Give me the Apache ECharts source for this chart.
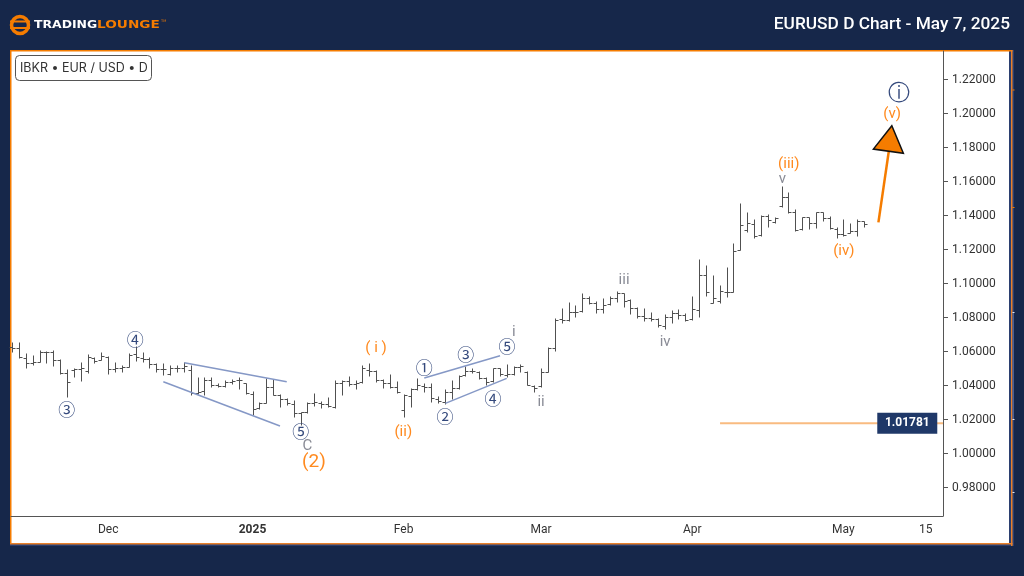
<!DOCTYPE html>
<html>
<head>
<meta charset="utf-8">
<title>EURUSD D Chart</title>
<script src="https://cdn.jsdelivr.net/npm/echarts@6/dist/echarts.min.js"></script>
<style>
    html, body { margin: 0; padding: 0; background: #16274a; }
    #main { width: 1024px; height: 576px; }
</style>
</head>
<body>
<div id="main"></div>
<script>
// 日线 OHLC，按交易日顺序
const opens = [1.0629,1.0623,1.0560,1.0531,1.0540,1.0595,1.0599,1.0550,1.0472,1.0491,1.0495,1.0485,1.0560,1.0550,1.0570,1.0497,1.0505,1.0511,1.0584,1.0560,1.0554,1.0527,1.0497,1.0468,1.0501,
    1.0505,1.0491,1.0358,1.0370,1.0433,1.0403,1.0399,1.0423,1.0433,1.0413,1.0350,1.0266,1.0299,1.0389,1.0344,1.0321,1.0291,1.0241,1.0247,1.0299,1.0295,1.0291,1.0276,1.0417,1.0427,
    1.0409,1.0419,1.0491,1.0487,1.0433,1.0417,1.0389,1.0256,1.0340,1.0378,1.0397,1.0389,1.0319,1.0305,1.0364,1.0384,1.0462,1.0487,1.0482,1.0442,1.0429,1.0501,1.0462,1.0468,1.0511,
    1.0482,1.0397,1.0397,1.0482,1.0623,1.0790,1.0786,1.0835,1.0839,1.0917,1.0884,1.0848,1.0878,1.0917,1.0943,1.0903,1.0854,1.0809,1.0796,1.0790,1.0752,1.0801,1.0825,1.0815,1.0790,
    1.0845,1.1050,1.0884,1.0899,1.0948,1.0948,1.1198,1.1315,1.1350,1.1286,1.1399,1.1364,1.1456,1.1511,1.1423,1.1319,1.1390,1.1358,1.1419,1.1384,1.1319,1.1292,1.1300,1.1309,1.1370];
const highs = [1.0658,1.0654,1.0589,1.0580,1.0609,1.0603,1.0609,1.0554,1.0495,1.0501,1.0540,1.0584,1.0570,1.0595,1.0574,1.0537,1.0521,1.0589,1.0634,1.0595,1.0566,1.0531,1.0531,1.0521,1.0521,
    1.0537,1.0521,1.0452,1.0448,1.0448,1.0413,1.0433,1.0438,1.0452,1.0417,1.0370,1.0305,1.0442,1.0436,1.0350,1.0325,1.0315,1.0247,1.0305,1.0354,1.0309,1.0331,1.0433,1.0433,1.0456,
    1.0433,1.0521,1.0535,1.0491,1.0438,1.0468,1.0429,1.0348,1.0384,1.0442,1.0413,1.0413,1.0339,1.0378,1.0433,1.0462,1.0515,1.0505,1.0485,1.0452,1.0505,1.0505,1.0525,1.0517,1.0525,
    1.0487,1.0403,1.0501,1.0625,1.0795,1.0854,1.0890,1.0874,1.0943,1.0929,1.0898,1.0913,1.0927,1.0956,1.0943,1.0909,1.0860,1.0854,1.0831,1.0796,1.0819,1.0845,1.0850,1.0829,1.0927,
    1.1143,1.1109,1.1050,1.0992,1.1099,1.1237,1.1472,1.1419,1.1380,1.1403,1.1407,1.1394,1.1574,1.1541,1.1437,1.1394,1.1394,1.1423,1.1423,1.1398,1.1331,1.1378,1.1358,1.1378,1.1370];
const lows = [1.0599,1.0560,1.0501,1.0521,1.0536,1.0531,1.0515,1.0468,1.0335,1.0452,1.0429,1.0476,1.0531,1.0550,1.0466,1.0482,1.0478,1.0511,1.0546,1.0540,1.0501,1.0482,1.0462,1.0462,1.0482,
    1.0482,1.0344,1.0350,1.0344,1.0389,1.0389,1.0393,1.0409,1.0378,1.0350,1.0227,1.0262,1.0295,1.0344,1.0276,1.0286,1.0217,1.0168,1.0241,1.0280,1.0266,1.0272,1.0270,1.0344,1.0397,
    1.0378,1.0417,1.0456,1.0419,1.0387,1.0387,1.0354,1.0217,1.0276,1.0374,1.0360,1.0305,1.0295,1.0291,1.0319,1.0378,1.0456,1.0472,1.0436,1.0403,1.0423,1.0456,1.0452,1.0462,1.0478,
    1.0403,1.0364,1.0393,1.0478,1.0605,1.0770,1.0782,1.0805,1.0835,1.0880,1.0825,1.0829,1.0874,1.0894,1.0864,1.0819,1.0796,1.0782,1.0782,1.0743,1.0733,1.0766,1.0790,1.0782,1.0786,
    1.0805,1.0929,1.0884,1.0888,1.0919,1.0948,1.1198,1.1301,1.1266,1.1282,1.1335,1.1358,1.1452,1.1417,1.1311,1.1315,1.1319,1.1325,1.1370,1.1319,1.1266,1.1280,1.1296,1.1282,1.1331];
const closes = [1.0619,1.0566,1.0531,1.0540,1.0599,1.0599,1.0550,1.0472,1.0423,1.0495,1.0501,1.0570,1.0546,1.0574,1.0497,1.0501,1.0507,1.0580,1.0566,1.0554,1.0527,1.0497,1.0495,1.0501,1.0505,
    1.0515,1.0358,1.0364,1.0433,1.0403,1.0399,1.0423,1.0427,1.0433,1.0358,1.0262,1.0295,1.0389,1.0344,1.0321,1.0295,1.0241,1.0247,1.0295,1.0305,1.0291,1.0280,1.0417,1.0427,1.0409,
    1.0413,1.0501,1.0487,1.0433,1.0417,1.0389,1.0364,1.0344,1.0378,1.0403,1.0389,1.0325,1.0309,1.0364,1.0384,1.0458,1.0487,1.0484,1.0442,1.0423,1.0501,1.0468,1.0468,1.0511,1.0515,
    1.0403,1.0384,1.0482,1.0623,1.0785,1.0786,1.0835,1.0835,1.0917,1.0884,1.0848,1.0874,1.0917,1.0943,1.0899,1.0854,1.0809,1.0796,1.0790,1.0756,1.0801,1.0825,1.0815,1.0786,1.0848,
    1.1050,1.0948,1.0913,1.0958,1.0948,1.1193,1.1345,1.1354,1.1280,1.1399,1.1374,1.1388,1.1511,1.1423,1.1315,1.1390,1.1358,1.1419,1.1384,1.1325,1.1292,1.1286,1.1309,1.1370,1.1350];

// 坐标轴刻度
const yTicks = [0.98, 1.00, 1.02, 1.04, 1.06, 1.08, 1.10, 1.12, 1.14, 1.16, 1.18, 1.20, 1.22];
const xTickSlots = [14, 35, 57, 77, 99, 121, 133];
const xTickNames = ['Dec', '2025', 'Feb', 'Mar', 'Apr', 'May', '15'];

// 波浪标注
const waveNames = ['③', '④', '⑤', '①', '②', '③', '④', '⑤', 'ⓘ',
    'C', 'i', 'ii', 'iii', 'iv', 'v',
    '( i )', '(ii)', '(iii)', '(iv)', '(v)', '(2)'];
const waveSlots = [7.96, 17.94, 42.02, 60.01, 63.02, 66.04, 70.01, 72.05, 129.1,
    42.98, 73.02, 77.0, 89.08, 95.05, 112.12,
    52.98, 56.95, 113.05, 121.06, 128.09, 43.95];
const wavePrices = [1.0266, 1.0675, 1.0138, 1.0513, 1.0221, 1.0589, 1.0328, 1.0636, 1.2122,
    1.0050, 1.0722, 1.0309, 1.1026, 1.0660, 1.1622,
    1.0628, 1.0132, 1.1707, 1.1195, 1.2001, 0.9956];
const waveKinds = ['navy', 'navy', 'navy', 'navy', 'navy', 'navy', 'navy', 'navy', 'navyBig',
    'gray', 'gray', 'gray', 'gray', 'gray', 'gray',
    'orange', 'orange', 'orange', 'orange', 'orange', 'big'];

// 趋势线 [slot1, price1, slot2, price2]
const wedgeLines = [
    [25.08, 1.0534, 39.98, 1.0422],
    [22.02, 1.0422, 39.0, 1.0162],
    [60.0, 1.0444, 71.03, 1.0575],
    [63.07, 1.0295, 72.0, 1.0442]
];
const arrowShaft = [126.1, 1.1360, 127.6, 1.1775];
const arrowHeadSlots = [128.05, 125.37, 129.73];
const arrowHeadPrices = [1.1928, 1.1791, 1.1766];

const levelPrice = 1.01781;
const levelStartSlot = 103.05;
const xMin = -0.15;
const xMax = 135.5;

const kindStyle = {
    navy: {color: '#34497c', fontSize: 17, fontFamily: 'Noto Sans CJK SC'},
    navyBig: {color: '#34497c', fontSize: 22, fontFamily: 'DejaVu Sans'},
    gray: {color: '#8a8c96', fontSize: 15, fontFamily: 'Roboto'},
    orange: {color: '#ff8a1f', fontSize: 15, fontFamily: 'Roboto'},
    big: {color: '#ff8a1f', fontSize: 19, fontFamily: 'Roboto'}
};

/**
 * 美国线：左开右收
 */
const renderOhlc = function (params, api) {
    const x = Math.round(api.coord([api.value(0), 0])[0]) + 0.5;
    const yOf = function (i) {
        return Math.round(api.coord([0, api.value(i)])[1]) + 0.5;
    };
    const style = {stroke: '#505050', lineWidth: 1, fill: null};
    return {
        type: 'group',
        children: [
            {type: 'line', shape: {x1: x, y1: yOf(3), x2: x, y2: yOf(4)}, style: style},
            {type: 'line', shape: {x1: x - 3, y1: yOf(1), x2: x, y2: yOf(1)}, style: style},
            {type: 'line', shape: {x1: x, y1: yOf(2), x2: x + 3, y2: yOf(2)}, style: style}
        ]
    };
};

const ohlcData = opens.map(function (o, i) {
    return [i, o, closes[i], lows[i], highs[i]];
});

const lineSeries = function (points, color, width) {
    return {
        type: 'line',
        data: points,
        symbol: 'none',
        silent: true,
        lineStyle: {color: color, width: width}
    };
};

const wedgeSeries = wedgeLines.map(function (l) {
    return lineSeries([[l[0], l[1]], [l[2], l[3]]], '#8598c6', 1.5);
});

const edgeRect = function (x, y, width, height, fill, z) {
    return {type: 'rect', z: z, silent: true, shape: {x: x, y: y, width: width, height: height}, style: {fill: fill}};
};

const chart = echarts.init(document.getElementById('main'));
chart.setOption({
    animation: false,
    backgroundColor: '#16274a',
    grid: {left: 11, right: 81, top: 51, bottom: 60},
    xAxis: {
        type: 'value',
        min: xMin,
        max: xMax,
        splitLine: {show: false},
        axisLine: {show: true, onZero: false, lineStyle: {color: '#555', width: 1}},
        axisTick: {show: false},
        axisLabel: {
            customValues: xTickSlots,
            margin: 8,
            color: '#333',
            fontFamily: 'Roboto',
            fontSize: 12,
            formatter: function (v) {
                const name = xTickNames[xTickSlots.indexOf(v)];
                return name === '2025' ? '{b|' + name + '}' : name;
            },
            rich: {b: {fontWeight: 'bold', fontFamily: 'Roboto', fontSize: 12, color: '#333'}}
        }
    },
    yAxis: {
        type: 'value',
        position: 'right',
        min: 0.96324,
        max: 1.2368,
        splitLine: {show: false},
        axisLine: {show: true, onZero: false, lineStyle: {color: '#555', width: 1}},
        axisTick: {show: true, customValues: yTicks, length: 5, lineStyle: {color: '#555'}},
        axisLabel: {
            customValues: yTicks,
            margin: 9,
            padding: [4, 0, 0, 0],
            color: '#333',
            fontFamily: 'Roboto',
            fontSize: 12,
            formatter: function (v) {
                return v.toFixed(5);
            }
        }
    },
    graphic: [
        // 白色图表区和边框
        edgeRect(1009, 50, 5, 496, '#2b3f70', -11),
        edgeRect(11, 51, 998, 492.5, '#fff', -10),
        edgeRect(10, 544, 1001, 2, '#2b3f70', -10),
        edgeRect(10, 50, 1002.5, 1.5, '#f57c00', -9),
        edgeRect(10, 50, 1.5, 494, '#f57c00', -9),
        edgeRect(10, 543, 1002.5, 1.5, '#e8802a', -9),
        edgeRect(1011, 50, 1.5, 496, '#e8802a', -9),
        // 右侧价格条
        edgeRect(1012.5, 312, 1.5, 107, '#4a5f94', -8),
        edgeRect(1012.5, 89.5, 2, 1, '#f57c00', -8),
        edgeRect(1012.5, 207, 2, 1, '#f57c00', -8),
        edgeRect(1012.5, 312, 2, 1, '#e6e9f2', -8),
        edgeRect(1012.5, 419, 2, 1, '#e6e9f2', -8),
        edgeRect(1012.5, 492, 2, 1, '#e6e9f2', -8),
        // Logo
        {type: 'circle', z: 10, shape: {cx: 20, cy: 25, r: 8.5}, style: {fill: 'none', stroke: '#f57c00', lineWidth: 3.5}},
        edgeRect(10, 20.5, 20, 2, '#f57c00', 10),
        edgeRect(10, 27, 20, 2, '#f57c00', 10),
        {type: 'text', z: 10, x: 34, y: 25, scaleX: 1.13, style: {text: 'TRADING', fill: '#fff', font: 'bold 11px "DejaVu Sans"', verticalAlign: 'middle'}},
        {type: 'text', z: 10, x: 97, y: 25, scaleX: 1.24, style: {text: 'LOUNGE', fill: '#f57c00', font: 'bold 11px "DejaVu Sans"', verticalAlign: 'middle'}},
        {type: 'text', z: 10, x: 161, y: 21, style: {text: 'TM', fill: '#f57c00', font: '3.5px "DejaVu Sans"', verticalAlign: 'middle'}},
        // 标题
        {type: 'text', z: 10, right: 14, top: 16, style: {text: 'EURUSD D Chart - May 7, 2025', fill: '#fff', font: '500 17.3px Roboto'}},
        // 品种标签
        {type: 'rect', z: 10, shape: {x: 15.5, y: 55.5, width: 136, height: 25, r: 4}, style: {fill: '#fff', stroke: '#555', lineWidth: 1}},
        {type: 'text', z: 11, left: 20, top: 62, style: {text: 'IBKR • EUR / USD • D', fill: '#333', font: '12.5px Inter'}}
    ],
    series: [
        {
            type: 'custom',
            renderItem: renderOhlc,
            encode: {x: 0, y: [1, 2, 3, 4]},
            data: ohlcData,
            silent: true
        }
    ].concat(wedgeSeries, [
        lineSeries([[levelStartSlot, levelPrice], [xMax, levelPrice]], '#f9bb80', 2),
        lineSeries([[arrowShaft[0], arrowShaft[1]], [arrowShaft[2], arrowShaft[3]]], '#f57c00', 2.5),
        {
            // 箭头
            type: 'custom',
            silent: true,
            z: 5,
            renderItem: function (params, api) {
                const points = arrowHeadSlots.map(function (s, i) {
                    return api.coord([s, arrowHeadPrices[i]]);
                });
                return {
                    type: 'polygon',
                    shape: {points: points},
                    style: {fill: '#f57c00', stroke: '#111', lineWidth: 1.5}
                };
            },
            data: [[arrowHeadSlots[0], arrowHeadPrices[0]]]
        },
        {
            type: 'scatter',
            silent: true,
            symbolSize: 1,
            itemStyle: {color: 'transparent', opacity: 1},
            z: 6,
            data: waveNames.map(function (name, i) {
                return {
                    value: [waveSlots[i], wavePrices[i]],
                    label: Object.assign({show: true, position: 'inside', opacity: 1, offset: [0, 1], formatter: name},
                        kindStyle[waveKinds[i]])
                };
            })
        },
        {
            // 现价标签
            type: 'scatter',
            silent: true,
            symbolSize: 1,
            itemStyle: {color: 'transparent', opacity: 1},
            z: 7,
            data: [{
                value: [130.3, levelPrice],
                label: {
                    show: true,
                    position: 'inside',
                    opacity: 1,
                    formatter: levelPrice.toFixed(5),
                    width: 60,
                    height: 21,
                    lineHeight: 21,
                    align: 'center',
                    backgroundColor: '#1f3868',
                    color: '#fff',
                    fontFamily: 'Roboto',
                    fontWeight: 'bold',
                    fontSize: 12
                }
            }]
        }
    ])
});
</script>
</body>
</html>
